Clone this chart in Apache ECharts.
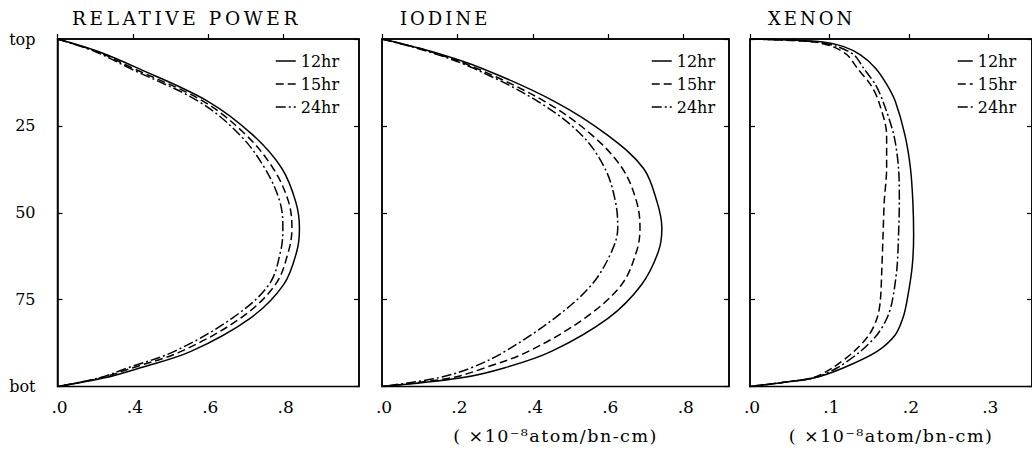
<!DOCTYPE html>
<html>
<head>
<meta charset="utf-8">
<script src="https://cdn.jsdelivr.net/npm/echarts@6/dist/echarts.min.js"></script>
<style>
  html, body { margin: 0; padding: 0; background: #fff; }
  #chart { width: 1032px; height: 450px; }
  #chart text[style*="18px"] { letter-spacing: 3px; }
  #chart text[style*="18.5px"] { letter-spacing: 3.6px; }
  #chart text[style*="17.5px"] { letter-spacing: 1.5px; }
</style>
</head>
<body>
<div id="chart"></div>
<script>
// ---------- data ----------
const titles = ['RELATIVE POWER', 'IODINE', 'XENON'];
const seriesNames = ['12hr', '15hr', '24hr'];
const yTickLabels = ['top', '25', '50', '75', 'bot'];
const yTickValues = [0, 25, 50, 75, 100];

// panel 1: broken axis, first tick labelled ".0"
const xTickValues1 = [0.2, 0.4, 0.6, 0.8];
const xTickLabels1 = ['.0', '.4', '.6', '.8'];
const xTickValues2 = [0, 0.2, 0.4, 0.6, 0.8];
const xTickLabels2 = ['.0', '.2', '.4', '.6', '.8'];
const xTickValues3 = [0, 0.1, 0.2, 0.3];
const xTickLabels3 = ['.0', '.1', '.2', '.3'];
const unitName = '( ×10⁻⁸atom/bn-cm)';

// axial position (0 = top, 100 = bottom)
const posPowerIodine = [0, 3.6, 8.4, 18.0, 27.6, 37.2, 46.8, 54.4, 61.1, 70.7, 80.3, 89.9, 94.6, 97.5, 100];
const power12 = [0.2, 0.308, 0.413, 0.600, 0.718, 0.795, 0.832, 0.842, 0.835, 0.800, 0.712, 0.554, 0.420, 0.325, 0.2];
const power15 = [0.2, 0.304, 0.400, 0.588, 0.700, 0.772, 0.813, 0.822, 0.813, 0.778, 0.686, 0.528, 0.400, 0.316, 0.2];
const power24 = [0.2, 0.299, 0.391, 0.575, 0.684, 0.750, 0.790, 0.798, 0.792, 0.761, 0.664, 0.510, 0.387, 0.312, 0.2];

const iodine12 = [0, 0.131, 0.264, 0.458, 0.597, 0.693, 0.729, 0.742, 0.733, 0.688, 0.600, 0.449, 0.326, 0.211, 0];
const iodine15 = [0, 0.127, 0.250, 0.432, 0.556, 0.637, 0.675, 0.684, 0.675, 0.635, 0.538, 0.388, 0.273, 0.184, 0];
const iodine24 = [0, 0.122, 0.242, 0.414, 0.529, 0.591, 0.619, 0.625, 0.609, 0.556, 0.458, 0.326, 0.237, 0.149, 0];

const posXenon = [0, 0.77, 2.2, 4.6, 8.4, 13.2, 18.0, 27.6, 37.2, 46.8, 56.3, 65.9, 75.5, 80.3, 85.1, 89.9, 94.6, 97.5, 98.9, 100];
const xenon12 = [0, 0.089, 0.118, 0.139, 0.158, 0.1725, 0.183, 0.195, 0.202, 0.205, 0.206, 0.204, 0.1975, 0.1925, 0.183, 0.160, 0.118, 0.081, 0.039, 0];
const xenon15 = [0, 0.077, 0.104, 0.1225, 0.135, 0.152, 0.162, 0.172, 0.172, 0.169, 0.1675, 0.166, 0.164, 0.160, 0.150, 0.131, 0.104, 0.079, 0.039, 0];
const xenon24 = [0, 0.081, 0.110, 0.131, 0.143, 0.158, 0.1675, 0.181, 0.187, 0.188, 0.187, 0.185, 0.179, 0.1725, 0.160, 0.139, 0.110, 0.081, 0.039, 0];

// ---------- layout / style ----------
const FONT = 'DejaVu Serif';
const grids = [
  { left: 57.5, top: 39, width: 301.5, height: 347.5 },
  { left: 382, top: 39, width: 347, height: 347.5 },
  { left: 750, top: 39, width: 284, height: 347.5 }
];
const xRanges = [
  { min: 0.2, max: 1.0, interval: 0.2, ticks: xTickValues1, labels: xTickLabels1, name: '' },
  { min: 0, max: 0.92, interval: 0.2, ticks: xTickValues2, labels: xTickLabels2, name: unitName },
  { min: 0, max: 0.355, interval: 0.1, ticks: xTickValues3, labels: xTickLabels3, name: unitName }
];
const legendPos = [
  { left: 275, itemWidth: 20 },
  { left: 651, itemWidth: 20 },
  { left: 957, itemWidth: 15 }
];
const titleLeft = [72, 400, 768];
const titleSize = [18.5, 18, 18];
const lineTypes = ['solid', [8, 4], [10, 3, 2, 3]];
const panelData = [
  { pos: posPowerIodine, vals: [power12, power15, power24], smooth: 0.35 },
  { pos: posPowerIodine, vals: [iodine12, iodine15, iodine24], smooth: 0.35 },
  { pos: posXenon, vals: [xenon12, xenon15, xenon24], smooth: 0.3 }
];

function labelLookup(values, labels) {
  return function (v) {
    for (let i = 0; i < values.length; i++) {
      if (Math.abs(values[i] - v) < 1e-6) return labels[i];
    }
    return '';
  };
}

const hiddenSymbol = { color: 'rgba(0,0,0,0)', borderWidth: 0, opacity: 0 };

const option = {
  animation: false,
  backgroundColor: '#fff',
  title: titles.map((t, i) => ({
    text: t,
    left: titleLeft[i],
    top: 9,
    padding: 0,
    textStyle: { fontFamily: FONT, fontSize: titleSize[i], fontWeight: 'normal', color: '#000' }
  })),
  legend: legendPos.map((l, i) => ({
    data: seriesNames.map((n, k) => ({
      name: n,
      itemStyle: hiddenSymbol,
      lineStyle: { color: '#000', width: 1.5, type: lineTypes[k] }
    })),
    orient: 'vertical',
    left: l.left,
    top: 53,
    padding: 0,
    itemWidth: l.itemWidth,
    itemHeight: 14,
    itemGap: 7,
    itemStyle: hiddenSymbol,
    textStyle: { fontFamily: FONT, fontSize: 16, color: '#000' },
    selectedMode: false
  })),
  grid: grids.map(g => Object.assign({ show: true, borderColor: '#000', borderWidth: 1.5, containLabel: false }, g)),
  xAxis: xRanges.map((r, i) => ({
    type: 'value',
    gridIndex: i,
    min: r.min,
    max: r.max,
    interval: r.interval,
    name: r.name,
    nameLocation: 'middle',
    nameGap: 40,
    nameTextStyle: { fontFamily: FONT, fontSize: 17.5, color: '#000' },
    axisLine: { show: true, lineStyle: { color: '#000', width: 1.5 } },
    axisTick: { show: true, inside: true, length: 5, lineStyle: { color: '#000', width: 1.2 } },
    splitLine: { show: false },
    axisLabel: {
      show: true, margin: 12, color: '#000', fontFamily: FONT, fontSize: 17,
      showMaxLabel: false, padding: [0, 0, 0, 4],
      formatter: labelLookup(r.ticks, r.labels)
    }
  })),
  yAxis: [].concat(...grids.map((g, i) => [
    {
      type: 'value', gridIndex: i, min: 0, max: 100, interval: 25, inverse: true,
      position: 'left',
      axisLine: { show: true, lineStyle: { color: '#000', width: 1.5 } },
      axisTick: { show: true, inside: true, length: 5, lineStyle: { color: '#000', width: 1.2 } },
      splitLine: { show: false },
      axisLabel: {
        show: i === 0, margin: 22, color: '#000', fontFamily: FONT, fontSize: 16,
        formatter: labelLookup(yTickValues, yTickLabels)
      }
    },
    {
      type: 'value', gridIndex: i, min: 0, max: 100, interval: 25, inverse: true,
      position: 'right',
      axisLine: { show: true, lineStyle: { color: '#000', width: 1.5 } },
      axisTick: { show: true, inside: true, length: 5, lineStyle: { color: '#000', width: 1.2 } },
      splitLine: { show: false },
      axisLabel: { show: false }
    }
  ])),
  series: [].concat(...panelData.map((p, i) => p.vals.map((vals, k) => ({
    type: 'line',
    name: seriesNames[k],
    xAxisIndex: i,
    yAxisIndex: i * 2,
    data: vals.map((v, j) => [v, p.pos[j]]),
    showSymbol: false,
    symbol: 'none',
    smooth: p.smooth,
    lineStyle: { color: '#000', width: 1.5, type: lineTypes[k] },
    itemStyle: { color: '#000' },
    emphasis: { disabled: true }
  }))))
};

const chart = echarts.init(document.getElementById('chart'), null, { renderer: 'svg', width: 1032, height: 450 });
chart.setOption(option);
</script>
</body>
</html>
